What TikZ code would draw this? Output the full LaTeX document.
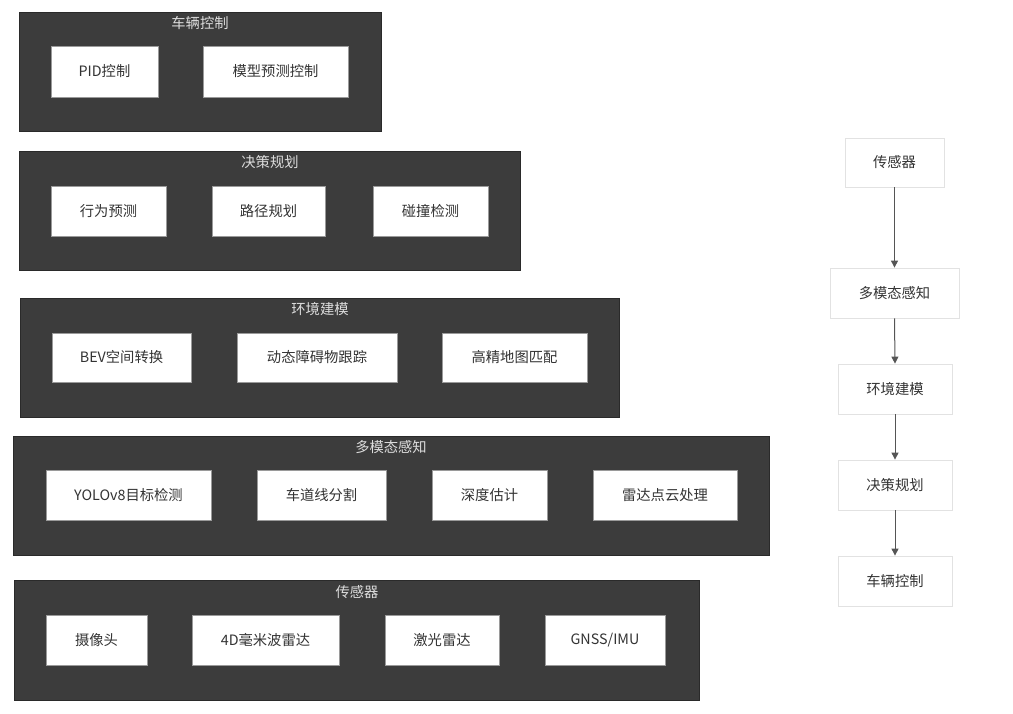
\documentclass[tikz,border=0pt]{standalone}
\usepackage{fontspec}
\setmainfont{Noto Sans CJK SC}
\usetikzlibrary{arrows.meta}
\definecolor{grpfill}{HTML}{3C3C3C}
\definecolor{grpline}{HTML}{2A2A2A}
\definecolor{boxline}{HTML}{9A9A9A}
\definecolor{txtdark}{HTML}{333333}
\definecolor{txtlight}{HTML}{DDDDDD}
\definecolor{flowline}{HTML}{E2E2E2}
\definecolor{arrowc}{HTML}{555555}
\begin{document}
\begin{tikzpicture}[x=1pt,y=-1pt,
  grp/.style={fill=grpfill,draw=grpline,line width=0.8pt},
  grptitle/.style={text=txtlight,font=\fontsize{14.3}{16}\selectfont,inner sep=0pt},
  item/.style={fill=white,draw=boxline,line width=0.8pt},
  itemtext/.style={text=txtdark,font=\fontsize{14.3}{16}\selectfont,inner sep=0pt},
  flow/.style={fill=white,draw=flowline,line width=0.8pt,text=txtdark,font=\fontsize{14.3}{16}\selectfont,anchor=center,inner sep=0pt},
  arr/.style={draw=arrowc,line width=1pt,-{Triangle[length=7pt,width=7pt]}}]
\useasboundingbox (0,0) rectangle (1013,713);
\newcommand{\itembox}[6]{%
  \draw[item] (#1,#2) rectangle (#3,#4);
  \node[itemtext] (#5) at ({(#1+#3)/2},{(#2+#4)/2}) {#6};}
% group 1
\draw[grp] (19,12) rectangle (381,131);
\node[grptitle] (g1) at (200,23.5) {车辆控制};
\itembox{51}{46}{158}{97}{g1a}{PID控制}
\itembox{203}{46}{348}{97}{g1b}{模型预测控制}
% group 2
\draw[grp] (19,151) rectangle (520,270);
\node[grptitle] (g2) at (270,162.5) {决策规划};
\itembox{51}{186}{166}{236}{g2a}{行为预测}
\itembox{212}{186}{325}{236}{g2b}{路径规划}
\itembox{373}{186}{488}{236}{g2c}{碰撞检测}
% group 3
\draw[grp] (20,298) rectangle (619,417);
\node[grptitle] (g3) at (320,309.5) {环境建模};
\itembox{52}{333}{191}{382}{g3a}{BEV空间转换}
\itembox{237}{333}{397}{382}{g3b}{动态障碍物跟踪}
\itembox{442}{333}{587}{382}{g3c}{高精地图匹配}
% group 4
\draw[grp] (13,436) rectangle (769,555);
\node[grptitle] (g4) at (391,447.5) {多模态感知};
\itembox{46}{470}{211}{520}{g4a}{YOLOv8目标检测}
\itembox{257}{470}{386}{520}{g4b}{车道线分割}
\itembox{432}{470}{547}{520}{g4c}{深度估计}
\itembox{593}{470}{737}{520}{g4d}{雷达点云处理}
% group 5
\draw[grp] (14,580) rectangle (699,700);
\node[grptitle] (g5) at (357,592.5) {传感器};
\itembox{46}{615}{147}{665}{g5a}{摄像头}
\itembox{192}{615}{339}{665}{g5b}{4D毫米波雷达}
\itembox{385}{615}{499}{665}{g5c}{激光雷达}
\itembox{545}{615}{665}{665}{g5d}{GNSS/IMU}
% right flow
\node[flow,minimum width=99pt,minimum height=49pt] (f1) at (894.5,162.5) {传感器};
\node[flow,minimum width=129pt,minimum height=50pt] (f2) at (894.5,293) {多模态感知};
\node[flow,minimum width=114pt,minimum height=50pt] (f3) at (895,389) {环境建模};
\node[flow,minimum width=114pt,minimum height=50pt] (f4) at (895,485) {决策规划};
\node[flow,minimum width=114pt,minimum height=50pt] (f5) at (895,581) {车辆控制};
\draw[arr] (f1.south) -- (f2.north);
\draw[arr] (f2.south) -- (f3.north);
\draw[arr] (f3.south) -- (f4.north);
\draw[arr] (f4.south) -- (f5.north);
\end{tikzpicture}
\end{document}
